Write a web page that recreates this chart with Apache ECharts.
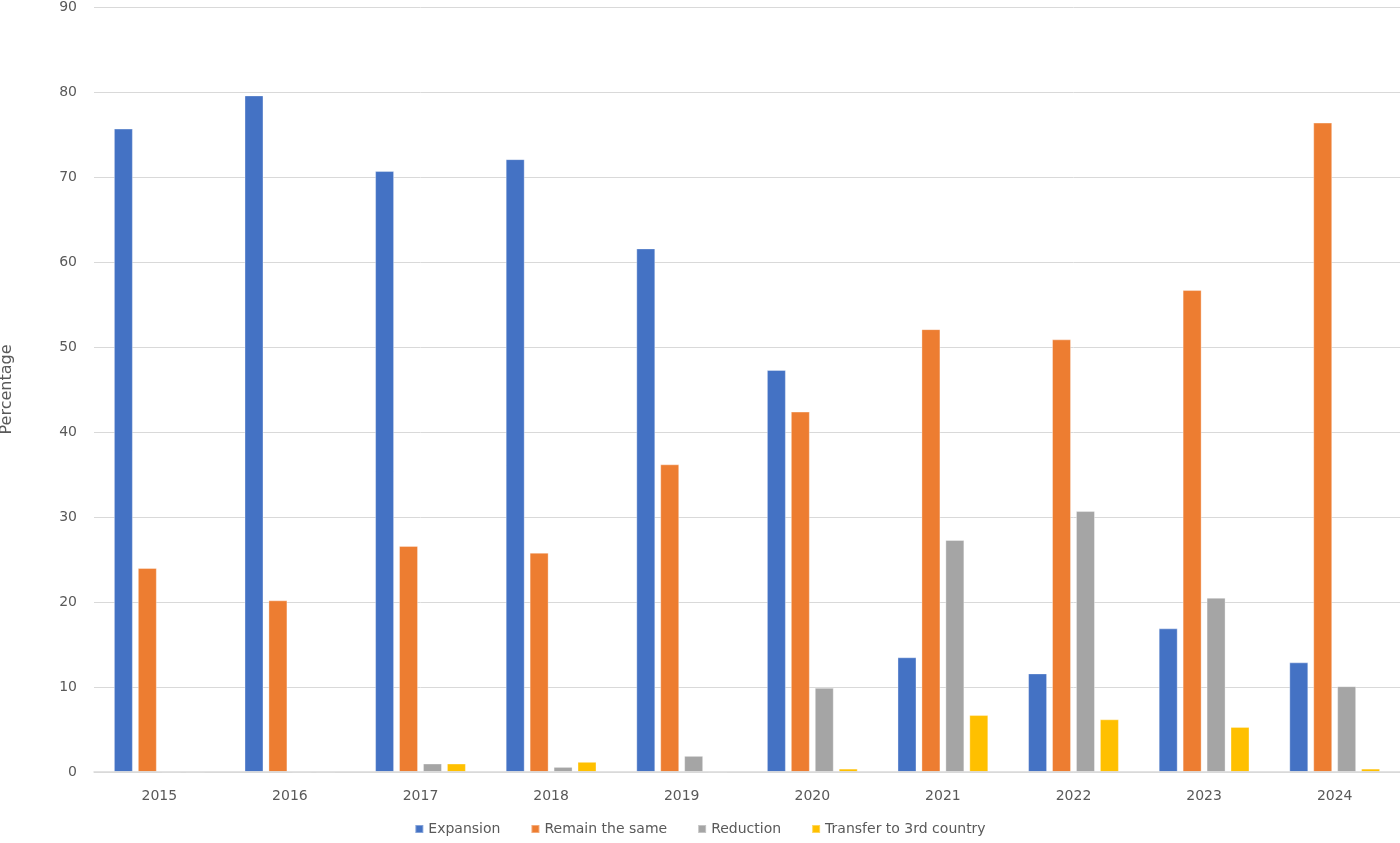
<!DOCTYPE html>
<html>
<head>
<meta charset="utf-8">
<script src="https://cdn.jsdelivr.net/npm/echarts@6/dist/echarts.min.js"></script>
<style>html,body{margin:0;padding:0;background:#fff}#c{width:1400px;height:843px}</style>
</head>
<body>
<div id="c"></div>
<script>
const years = ['2015','2016','2017','2018','2019','2020','2021','2022','2023','2024'];
const expansion = [75.7, 79.6, 70.7, 72.1, 61.6, 47.3, 13.5, 11.6, 16.9, 12.9];
const remainSame = [24.0, 20.2, 26.6, 25.8, 36.2, 42.4, 52.1, 50.9, 56.7, 76.4];
const reduction = [0, 0, 1.0, 0.6, 1.9, 9.9, 27.3, 30.7, 20.5, 10.1];
const transfer = [0, 0, 1.0, 1.2, 0, 0.4, 6.7, 6.2, 5.3, 0.4];
const yTicks = [0, 10, 20, 30, 40, 50, 60, 70, 80, 90];

const font = 'DejaVu Sans';
const mk = (name, data, color) => ({
  name, type: 'bar', data, barWidth: 19, barGap: '26%',
  itemStyle: { color, borderColor: 'rgba(255,255,255,0.35)', borderWidth: 1 }
});
const chart = echarts.init(document.getElementById('c'));
chart.setOption({
  animation: false,
  textStyle: { fontFamily: font },
  grid: { left: 94, right: 0, top: 7, bottom: 71, outerBoundsMode: 'none', containLabel: false },
  legend: {
    bottom: 2, left: 'center', itemWidth: 8, itemHeight: 8, itemGap: 30, icon: 'rect',
    textStyle: { fontFamily: font, fontSize: 14, color: '#595959' }
  },
  xAxis: {
    type: 'category', data: years, z: 5,
    axisLine: { lineStyle: { color: '#d9d9d9', width: 1.5 } },
    axisTick: { show: false },
    axisLabel: { fontFamily: font, fontSize: 14, color: '#595959', margin: 17 }
  },
  yAxis: {
    type: 'value', min: yTicks[0], max: yTicks[yTicks.length - 1], interval: 10,
    name: 'Percentage', nameLocation: 'middle', nameGap: 79, nameRotate: 90,
    nameTextStyle: { fontFamily: font, fontSize: 16, color: '#595959' },
    axisLine: { show: false }, axisTick: { show: false },
    axisLabel: { fontFamily: font, fontSize: 14, color: '#595959', margin: 17 },
    splitLine: { lineStyle: { color: '#d9d9d9', width: 1 } }
  },
  series: [
    mk('Expansion', expansion, '#4472C4'),
    mk('Remain the same', remainSame, '#ED7D31'),
    mk('Reduction', reduction, '#A5A5A5'),
    mk('Transfer to 3rd country', transfer, '#FFC000')
  ]
});
</script>
</body>
</html>
